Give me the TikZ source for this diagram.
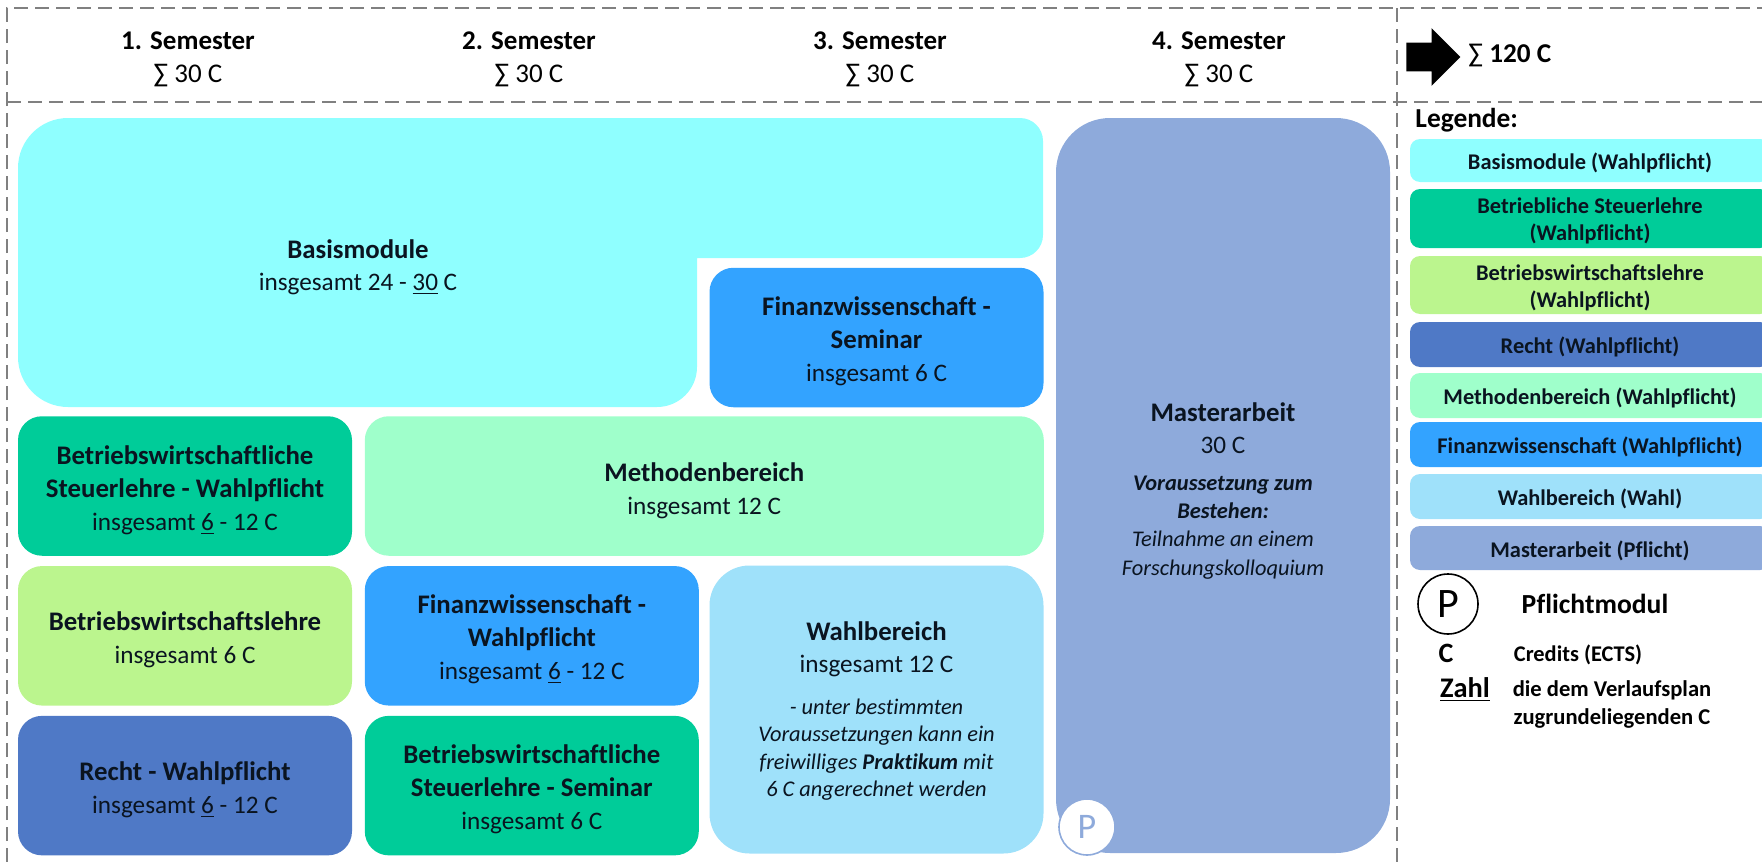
\documentclass[tikz,border=0pt]{standalone}
\usepackage{fontspec}
\setmainfont{Carlito}[Ligatures=NoCommon]
\usetikzlibrary{positioning, shapes.arrows}
\definecolor{BasisCyan}{HTML}{8FFFFF}
\definecolor{SteuerGreen}{HTML}{00CC99}
\definecolor{BwlGreen}{HTML}{BBF58E}
\definecolor{RechtBlue}{HTML}{4F79C6}
\definecolor{MethodenGreen}{HTML}{9FFFCB}
\definecolor{FinanzBlue}{HTML}{33A3FF}
\definecolor{WahlBlue}{HTML}{9FE1FA}
\definecolor{MasterBlue}{HTML}{8EAADB}
\definecolor{TextDark}{HTML}{0A1420}
\newcommand{\titel}{\fontsize{13.4}{16.5}\selectfont\bfseries}

\begin{document}
\begin{tikzpicture}[
        x=0.5pt, y=-0.5pt,
        node distance=4.75pt and 6pt,
        modul/.style={
            rectangle, rounded corners=12pt, minimum width=167pt, minimum height=69.75pt,
            inner sep=0pt, align=center, text=TextDark, font=\fontsize{12.6}{16.5}\selectfont,
            text height=44pt, text depth=0pt
        },
        zweizeilig/.style={text height=28pt},
        legende/.style={
            rectangle, rounded corners=5pt, minimum width=180pt, inner sep=0pt,
            align=center, text=TextDark, font=\fontsize{11.2}{13.3}\selectfont\bfseries,
            text height=11pt
        },
        kopf/.style={align=center, font=\fontsize{13.5}{16.5}\selectfont},
        schrift/.style={align=center, text=TextDark, font=\fontsize{12.6}{16}\selectfont},
        notiz/.style={align=center, text=TextDark, font=\fontsize{11.2}{14.2}\selectfont\itshape},
        randlinie/.style={draw=gray, line width=0.7pt, dash pattern=on 7pt off 3.5pt}
    ]
    \useasboundingbox (0,0) rectangle (1762,862);
    \clip (0,0) rectangle (1762,862);

    % Frame
    \draw [randlinie] (7,862) -- (7,8) -- (1762,8);
    \draw [randlinie] (7,102) -- (1762,102);
    \draw [randlinie] (1397,8) -- (1397,862);

    % Semester
    \node (sem1) [kopf] at (188,59) {\textbf{1. Semester}\\∑ 30 C};
    \node (sem2) [kopf] at (529,59) {\textbf{2. Semester}\\∑ 30 C};
    \node (sem3) [kopf] at (880,59) {\textbf{3. Semester}\\∑ 30 C};
    \node (sem4) [kopf] at (1219,59) {\textbf{4. Semester}\\∑ 30 C};

    \node (pfeil) [single arrow, fill=black, minimum height=27pt, inner sep=0pt,
        single arrow head extend=7.25pt, anchor=tip] at (1461,57) {\rule{0pt}{14pt}};
    \node (summe) [anchor=west, inner sep=0pt, font=\fontsize{13.6}{16}\selectfont] at (1468,56) {∑ \textbf{120 C}};

    % Basismodule
    \fill [BasisCyan] (18,300) [rounded corners=25pt] -- (18,118) [rounded corners=11.5pt] -- (1043,118)
        -- (1043,258) [sharp corners] -- (697,258)
        [rounded corners=20pt] -- (697,407) [rounded corners=25pt] -- (18,407) -- (18,300) -- cycle;
    \node (basis) [schrift] at (358,267)
        {{\titel Basismodule}\\insgesamt 24 - \underline{30} C};

    % Modules
    \node (finsem) [modul, fill=FinanzBlue] at (876.5,337.5)
        {{\titel Finanzwissenschaft -}\\{\titel Seminar}\\insgesamt 6 C};
    \node (steuerwahl) [modul, fill=SteuerGreen] at (185,486)
        {{\titel Betriebswirtschaftliche}\\{\titel Steuerlehre - Wahlpflicht}\\insgesamt \underline{6} - 12 C};
    \node (bwl) [modul, zweizeilig, fill=BwlGreen, below=of steuerwahl]
        {{\titel Betriebswirtschaftslehre}\\insgesamt 6 C};
    \node (recht) [modul, zweizeilig, fill=RechtBlue, below=of bwl]
        {{\titel Recht - Wahlpflicht}\\insgesamt \underline{6} - 12 C};
    \node (methoden) [modul, zweizeilig, fill=MethodenGreen, minimum width=339.5pt, right=of steuerwahl]
        {{\titel Methodenbereich}\\insgesamt 12 C};
    \node (finwahl) [modul, fill=FinanzBlue, right=of bwl]
        {{\titel Finanzwissenschaft -}\\{\titel Wahlpflicht}\\insgesamt \underline{6} - 12 C};
    \node (steuersem) [modul, fill=SteuerGreen, right=of recht]
        {{\titel Betriebswirtschaftliche}\\{\titel Steuerlehre - Seminar}\\insgesamt 6 C};
    \node (wahl) [modul, fill=WahlBlue, rounded corners=20pt, minimum height=144pt] at (876.5,709.5) {};
    \node (wahltext) [schrift] at (876.5,649)
        {{\titel Wahlbereich}\\insgesamt 12 C};
    \node (wahlnotiz) [notiz, font=\fontsize{11.2}{13.7}\selectfont\itshape, below=4pt of wahltext]
        {- unter bestimmten\\Voraussetzungen kann ein\\freiwilliges \textbf{Praktikum} mit\\6 C angerechnet werden};

    % Masterarbeit
    \node (master) [modul, fill=MasterBlue, rounded corners=27pt, minimum height=367.5pt] at (1223,485.5) {};
    \node (mastertext) [schrift] at (1223,428)
        {{\titel Masterarbeit}\\30 C};
    \node (masternotiz) [notiz, below=4pt of mastertext]
        {\textbf{Voraussetzung zum}\\\textbf{Bestehen:}\\Teilnahme an einem\\Forschungskolloquium};
    \node (pflicht) [circle, fill=white, draw=MasterBlue, line width=0.8pt, minimum size=28pt, inner sep=0pt,
        text=MasterBlue, font=\fontsize{18}{18}\selectfont] at (1087,827) {P};

    % Legend
    \node (legtitel) [anchor=west, inner sep=0pt, font=\fontsize{13.7}{16}\selectfont\bfseries] at (1415,120) {Legende:};
    \node (leg1) [legende, fill=BasisCyan, minimum height=21.5pt] at (1590,160.5) {Basismodule (Wahlpflicht)};
    \node (leg2) [legende, text height=22pt, text depth=0pt, fill=SteuerGreen, minimum height=29.5pt] at (1590,218.5) {Betriebliche Steuerlehre\\(Wahlpflicht)};
    \node (leg3) [legende, text height=22pt, text depth=0pt, fill=BwlGreen, minimum height=29pt] at (1590,285) {Betriebswirtschaftslehre\\(Wahlpflicht)};
    \node (leg4) [legende, fill=RechtBlue, minimum height=22.5pt] at (1590,344.5) {Recht (Wahlpflicht)};
    \node (leg5) [legende, fill=MethodenGreen, minimum height=22.5pt] at (1590,395.5) {Methodenbereich (Wahlpflicht)};
    \node (leg6) [legende, fill=FinanzBlue, minimum height=22.5pt] at (1590,444.5) {Finanzwissenschaft (Wahlpflicht)};
    \node (leg7) [legende, fill=WahlBlue, minimum height=22.5pt] at (1590,496.5) {Wahlbereich (Wahl)};
    \node (leg8) [legende, fill=MasterBlue, minimum height=22pt] at (1590,548) {Masterarbeit (Pflicht)};

    \node (legkreis) [circle, draw=black, line width=0.8pt, minimum size=30pt, inner sep=0pt,
        font=\fontsize{21}{21}\selectfont] at (1448,604) {P};
    \node (legpflicht) [font=\fontsize{13.8}{14}\selectfont\bfseries] at (1595,604) {Pflichtmodul};
    \node (legc) [font=\fontsize{14}{14}\selectfont\bfseries] at (1446,653) {C};
    \node (legcredits) [font=\fontsize{11.2}{14}\selectfont\bfseries] at (1578,655) {Credits (ECTS)};
    \node (legzahl) [font=\fontsize{14.2}{14}\selectfont\bfseries] at (1465,690) {\underline{Zahl}};
    \node (legplan) [align=center, font=\fontsize{11.3}{14}\selectfont\bfseries] at (1612,704)
        {die dem Verlaufsplan\\zugrundeliegenden C};

\end{tikzpicture}
\end{document}
